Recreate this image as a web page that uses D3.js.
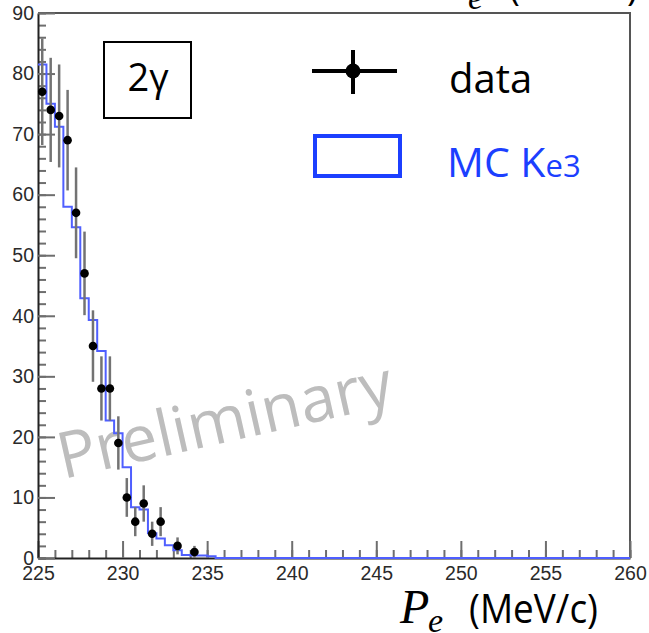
<!DOCTYPE html>
<html>
<head>
<meta charset="utf-8">
<script src="https://cdn.jsdelivr.net/npm/d3@7/dist/d3.min.js"></script>
<style>
  html, body { margin: 0; padding: 0; background: #fff; }
  svg { display: block; }
</style>
</head>
<body>
<svg id="chart" width="649" height="633"></svg>
<script>
// ---- data ----
const dataX   = [225.25, 225.75, 226.25, 226.75, 227.25, 227.75, 228.25, 228.75, 229.25, 229.75, 230.25, 230.75, 231.25, 231.75, 232.25, 233.25, 234.25];
const dataY   = [77, 74, 73, 69, 57, 47, 35, 28, 28, 19, 10, 6, 9, 4, 6, 2, 1];
const dataErr = [8.8, 8.6, 8.5, 8.3, 7.5, 6.9, 5.9, 5.3, 5.3, 4.4, 3.2, 2.4, 3.0, 2.0, 2.4, 1.4, 1.0];

const mcEdges  = [225.0, 225.5, 226.0, 226.5, 227.0, 227.5, 228.0, 228.5, 229.0, 229.5, 230.0, 230.5, 231.0, 231.5, 232.0, 232.5, 233.0, 233.5, 234.0, 234.5, 235.0, 235.5, 260.0];
const mcValues = [81.5, 75.0, 71.2, 58.0, 54.6, 42.9, 39.3, 34.2, 22.7, 20.6, 15.0, 8.4, 8.0, 4.1, 3.2, 2.1, 1.3, 0.5, 0.4, 0.4, 0.3, 0.0];

const xTickValues = [225, 230, 235, 240, 245, 250, 255, 260];
const yTickValues = [0, 10, 20, 30, 40, 50, 60, 70, 80, 90];
const xMinorTicks = d3.range(225, 261, 1);
const yMinorTicks = d3.range(0, 91, 2);

const legendLabels = ["data", "MC K", "e3"];
const boxLabel = "2\u03b3";
const watermark = "Preliminary";

// ---- layout ----
const L = 38, R = 630, T = 13, B = 558;
const svg = d3.select("#chart");
const x = d3.scaleLinear().domain([225, 260]).range([L, R]);
const y = d3.scaleLinear().domain([0, 90]).range([B, T]);

// watermark (behind)
svg.append("text")
  .attr("transform", "translate(63,479) rotate(-12.7)")
  .attr("font-family", "'Open Sans', sans-serif")
  .attr("font-size", 64)
  .attr("fill", "#bdbdbd")
  .text(watermark);

// frame top/right
svg.append("line").attr("x1", L).attr("x2", R + 1).attr("y1", T).attr("y2", T)
  .attr("stroke", "#555").attr("stroke-width", 2);
svg.append("line").attr("x1", R).attr("x2", R).attr("y1", T).attr("y2", B)
  .attr("stroke", "#555").attr("stroke-width", 2);

// minor ticks
const gxm = svg.append("g").attr("transform", `translate(0,${B})`)
  .call(d3.axisBottom(x).tickValues(xMinorTicks).tickSize(-8).tickSizeOuter(0).tickFormat(""));
const gym = svg.append("g").attr("transform", `translate(${L},0)`)
  .call(d3.axisLeft(y).tickValues(yMinorTicks).tickSize(-8).tickSizeOuter(0).tickFormat(""));
[gxm, gym].forEach(g => {
  g.select(".domain").remove();
  g.selectAll(".tick line").attr("stroke", "#6e6e6e").attr("stroke-width", 2);
});

// major axes
const gx = svg.append("g").attr("transform", `translate(0,${B})`)
  .call(d3.axisBottom(x).tickValues(xTickValues).tickSize(-17).tickSizeOuter(0).tickPadding(8).tickFormat(d3.format("d")));
const gy = svg.append("g").attr("transform", `translate(${L},0)`)
  .call(d3.axisLeft(y).tickValues(yTickValues).tickSize(-17).tickSizeOuter(0).tickPadding(4).tickFormat(d3.format("d")));
[gx, gy].forEach(g => {
  g.selectAll(".tick line").attr("stroke", "#6e6e6e").attr("stroke-width", 2);
  g.selectAll(".tick text").attr("font-family", "'Liberation Sans', Arial, sans-serif")
    .attr("font-size", 19.5).attr("fill", "#2a2a2a");
  g.select(".domain").attr("stroke", "#222").attr("stroke-width", 2);
});

// MC histogram
const stepPts = mcEdges.map((e, i) => [e, i < mcValues.length ? mcValues[i] : mcValues[mcValues.length - 1]]);
svg.append("path")
  .attr("d", d3.line().x(d => x(d[0])).y(d => y(d[1])).curve(d3.curveStepAfter)(stepPts))
  .attr("fill", "none").attr("stroke", "#4f5fff").attr("stroke-width", 2);

// data error bars & points
const pts = dataX.map((d, i) => ({ x: d, y: dataY[i], e: dataErr[i] }));
svg.append("g").selectAll("line").data(pts).join("line")
  .attr("x1", d => x(d.x)).attr("x2", d => x(d.x))
  .attr("y1", d => y(d.y + d.e)).attr("y2", d => y(Math.max(0, d.y - d.e)))
  .attr("stroke", "#737373").attr("stroke-width", 2.5);
svg.append("g").selectAll("circle").data(pts).join("circle")
  .attr("cx", d => x(d.x)).attr("cy", d => y(d.y)).attr("r", 4.3).attr("fill", "#000");

// 2gamma box
svg.append("rect").attr("x", 104).attr("y", 42).attr("width", 87).attr("height", 76)
  .attr("fill", "#fff").attr("stroke", "#000").attr("stroke-width", 2);
svg.append("text").attr("x", 148).attr("y", 91).attr("text-anchor", "middle")
  .attr("font-family", "'Open Sans', sans-serif").attr("font-size", 38).attr("fill", "#000")
  .text(boxLabel);

// legend: data
svg.append("line").attr("x1", 312).attr("x2", 397).attr("y1", 71).attr("y2", 71)
  .attr("stroke", "#000").attr("stroke-width", 4);
svg.append("line").attr("x1", 353).attr("x2", 353).attr("y1", 50).attr("y2", 94)
  .attr("stroke", "#000").attr("stroke-width", 4);
svg.append("circle").attr("cx", 353).attr("cy", 71).attr("r", 7.5).attr("fill", "#000");
svg.append("text").attr("x", 449).attr("y", 93)
  .attr("font-family", "'Open Sans', sans-serif").attr("font-size", 40).attr("fill", "#000")
  .text(legendLabels[0]);

// legend: MC
svg.append("rect").attr("x", 315).attr("y", 136).attr("width", 85).attr("height", 40)
  .attr("fill", "none").attr("stroke", "#1c3fff").attr("stroke-width", 4);
const mcT = svg.append("text").attr("x", 447).attr("y", 177)
  .attr("font-family", "'Open Sans', sans-serif").attr("fill", "#1c3fff");
mcT.append("tspan").attr("font-size", 41).text(legendLabels[1]);
mcT.append("tspan").attr("font-size", 31).text(legendLabels[2]);

// axis title (bottom) and clipped copy at top
function axisTitle(tx, ty) {
  const g = svg.append("g").attr("transform", `translate(${tx},${ty})`);
  g.append("text").attr("x", 0).attr("y", 0)
    .attr("font-family", "'Liberation Serif', 'DejaVu Serif', serif").attr("font-style", "italic")
    .attr("font-size", 48).attr("fill", "#000").text("P");
  g.append("text").attr("x", 28).attr("y", 9)
    .attr("font-family", "'Liberation Serif', 'DejaVu Serif', serif").attr("font-style", "italic")
    .attr("font-size", 34).attr("fill", "#000").text("e");
  g.append("text").attr("x", 69).attr("y", 0)
    .attr("font-family", "'Open Sans', sans-serif")
    .attr("font-size", 40).attr("textLength", 129).attr("lengthAdjust", "spacingAndGlyphs")
    .attr("fill", "#000").text("(MeV/c)");
}
axisTitle(400, 623);
axisTitle(440, 0);
</script>
</body>
</html>
